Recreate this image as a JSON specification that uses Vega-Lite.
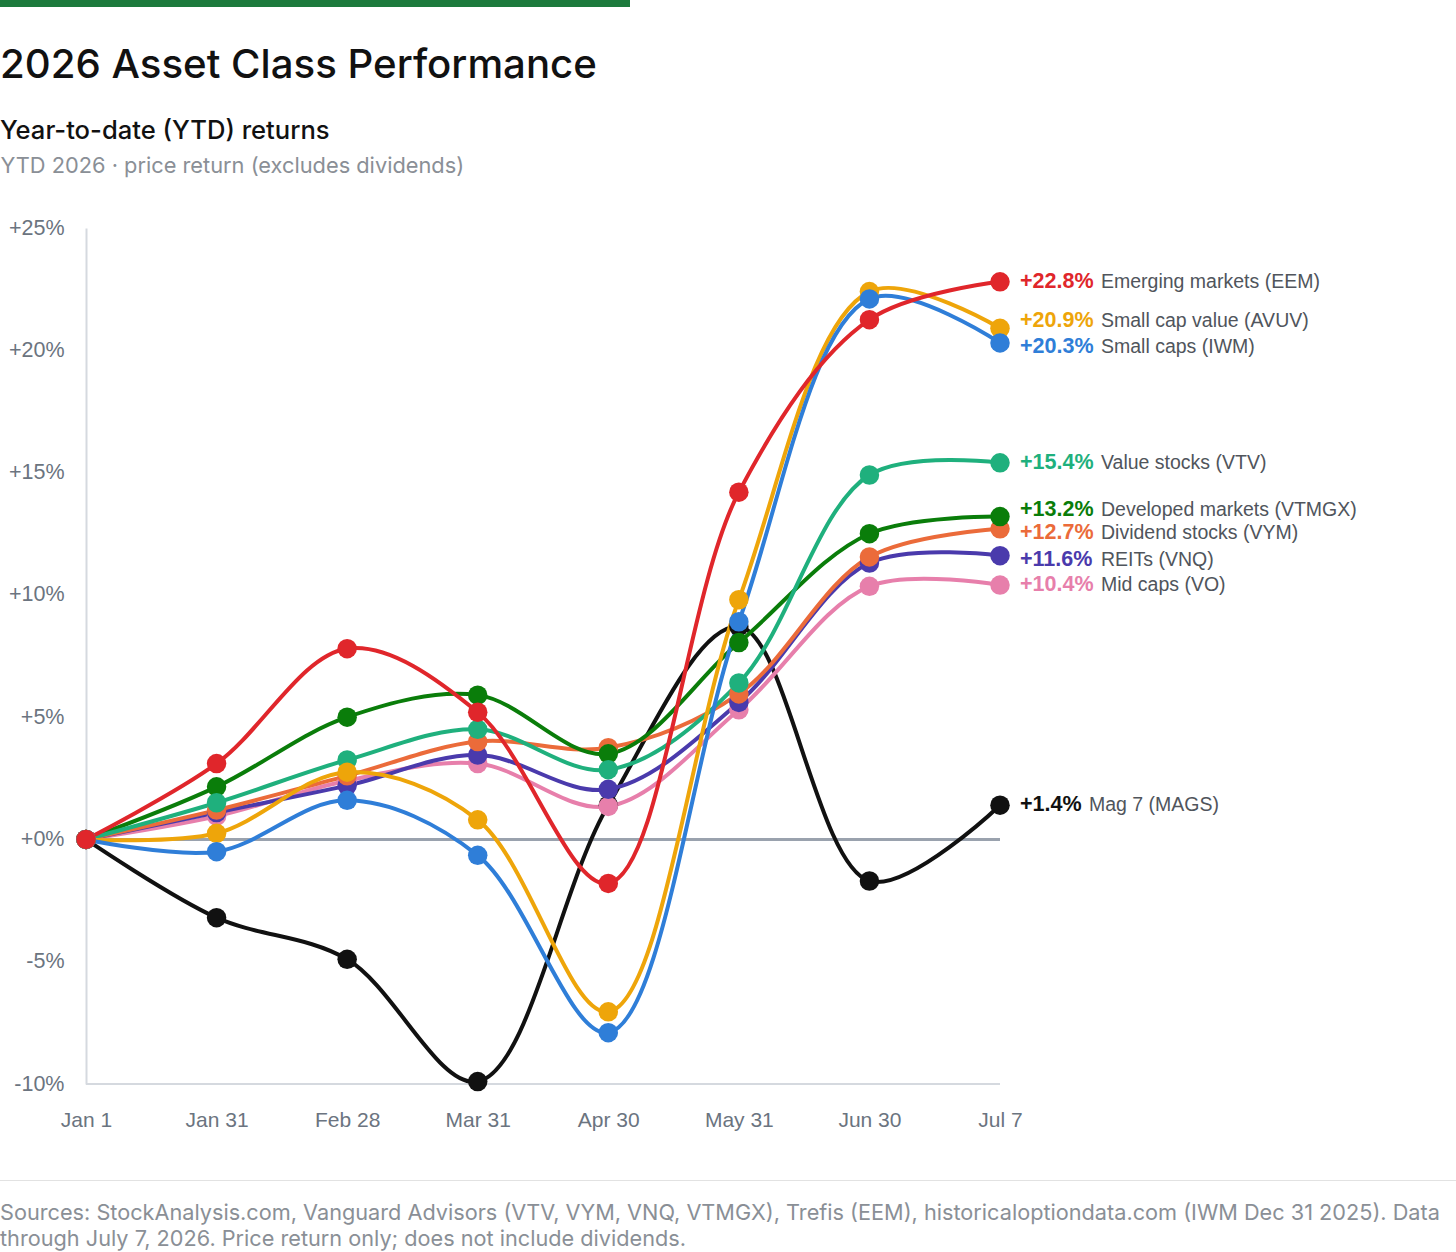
{
  "$schema": "https://vega.github.io/schema/vega-lite/v6.json",
  "description": "2026 asset class performance, YTD price returns",
  "padding": 0,
  "background": "white",
  "columns": 1,
  "spacing": 39,
  "config": {
    "view": {"stroke": null},
    "font": "Liberation Sans"
  },
  "concat": [
    {
      "data": {"values": [{"k": 1}]},
      "width": 630,
      "height": 7,
      "view": {"fill": "#1d7a3c", "stroke": null},
      "mark": {"type": "point", "opacity": 0, "size": 1}
    },
    {
      "title": {
        "text": "2026 Asset Class Performance",
        "subtitle": "Year-to-date (YTD) returns",
        "anchor": "start",
        "frame": "bounds",
        "font": "Inter",
        "fontSize": 40.2,
        "fontWeight": 500,
        "color": "#111111",
        "subtitleFont": "Inter",
        "subtitleFontSize": 25.6,
        "subtitleFontWeight": 500,
        "subtitleColor": "#111111",
        "subtitlePadding": 33,
        "offset": 10
      },
      "width": 1086,
      "height": 856,
      "data": {
        "values": [
          {"series": "Mag 7 (MAGS)", "date": "Jan 1", "value": 0},
          {"series": "Mag 7 (MAGS)", "date": "Jan 31", "value": -3.2},
          {"series": "Mag 7 (MAGS)", "date": "Feb 28", "value": -4.9},
          {"series": "Mag 7 (MAGS)", "date": "Mar 31", "value": -9.9},
          {"series": "Mag 7 (MAGS)", "date": "Apr 30", "value": 1.4},
          {"series": "Mag 7 (MAGS)", "date": "May 31", "value": 8.7},
          {"series": "Mag 7 (MAGS)", "date": "Jun 30", "value": -1.7},
          {"series": "Mag 7 (MAGS)", "date": "Jul 7", "value": 1.4},
          {"series": "Mid caps (VO)", "date": "Jan 1", "value": 0},
          {"series": "Mid caps (VO)", "date": "Jan 31", "value": 0.95},
          {"series": "Mid caps (VO)", "date": "Feb 28", "value": 2.4},
          {"series": "Mid caps (VO)", "date": "Mar 31", "value": 3.1},
          {"series": "Mid caps (VO)", "date": "Apr 30", "value": 1.35},
          {"series": "Mid caps (VO)", "date": "May 31", "value": 5.3},
          {"series": "Mid caps (VO)", "date": "Jun 30", "value": 10.35},
          {"series": "Mid caps (VO)", "date": "Jul 7", "value": 10.4},
          {"series": "REITs (VNQ)", "date": "Jan 1", "value": 0},
          {"series": "REITs (VNQ)", "date": "Jan 31", "value": 1.1},
          {"series": "REITs (VNQ)", "date": "Feb 28", "value": 2.2},
          {"series": "REITs (VNQ)", "date": "Mar 31", "value": 3.45},
          {"series": "REITs (VNQ)", "date": "Apr 30", "value": 2.05},
          {"series": "REITs (VNQ)", "date": "May 31", "value": 5.6},
          {"series": "REITs (VNQ)", "date": "Jun 30", "value": 11.3},
          {"series": "REITs (VNQ)", "date": "Jul 7", "value": 11.6},
          {"series": "Dividend stocks (VYM)", "date": "Jan 1", "value": 0},
          {"series": "Dividend stocks (VYM)", "date": "Jan 31", "value": 1.2},
          {"series": "Dividend stocks (VYM)", "date": "Feb 28", "value": 2.6},
          {"series": "Dividend stocks (VYM)", "date": "Mar 31", "value": 4.0},
          {"series": "Dividend stocks (VYM)", "date": "Apr 30", "value": 3.75},
          {"series": "Dividend stocks (VYM)", "date": "May 31", "value": 5.95},
          {"series": "Dividend stocks (VYM)", "date": "Jun 30", "value": 11.55},
          {"series": "Dividend stocks (VYM)", "date": "Jul 7", "value": 12.7},
          {"series": "Developed markets (VTMGX)", "date": "Jan 1", "value": 0},
          {"series": "Developed markets (VTMGX)", "date": "Jan 31", "value": 2.15},
          {"series": "Developed markets (VTMGX)", "date": "Feb 28", "value": 5.0},
          {"series": "Developed markets (VTMGX)", "date": "Mar 31", "value": 5.9},
          {"series": "Developed markets (VTMGX)", "date": "Apr 30", "value": 3.5},
          {"series": "Developed markets (VTMGX)", "date": "May 31", "value": 8.05},
          {"series": "Developed markets (VTMGX)", "date": "Jun 30", "value": 12.5},
          {"series": "Developed markets (VTMGX)", "date": "Jul 7", "value": 13.2},
          {"series": "Value stocks (VTV)", "date": "Jan 1", "value": 0},
          {"series": "Value stocks (VTV)", "date": "Jan 31", "value": 1.5},
          {"series": "Value stocks (VTV)", "date": "Feb 28", "value": 3.25},
          {"series": "Value stocks (VTV)", "date": "Mar 31", "value": 4.5},
          {"series": "Value stocks (VTV)", "date": "Apr 30", "value": 2.85},
          {"series": "Value stocks (VTV)", "date": "May 31", "value": 6.4},
          {"series": "Value stocks (VTV)", "date": "Jun 30", "value": 14.9},
          {"series": "Value stocks (VTV)", "date": "Jul 7", "value": 15.4},
          {"series": "Small cap value (AVUV)", "date": "Jan 1", "value": 0},
          {"series": "Small cap value (AVUV)", "date": "Jan 31", "value": 0.25},
          {"series": "Small cap value (AVUV)", "date": "Feb 28", "value": 2.75},
          {"series": "Small cap value (AVUV)", "date": "Mar 31", "value": 0.8},
          {"series": "Small cap value (AVUV)", "date": "Apr 30", "value": -7.05},
          {"series": "Small cap value (AVUV)", "date": "May 31", "value": 9.8},
          {"series": "Small cap value (AVUV)", "date": "Jun 30", "value": 22.4},
          {"series": "Small cap value (AVUV)", "date": "Jul 7", "value": 20.9},
          {"series": "Small caps (IWM)", "date": "Jan 1", "value": 0},
          {"series": "Small caps (IWM)", "date": "Jan 31", "value": -0.5},
          {"series": "Small caps (IWM)", "date": "Feb 28", "value": 1.6},
          {"series": "Small caps (IWM)", "date": "Mar 31", "value": -0.65},
          {"series": "Small caps (IWM)", "date": "Apr 30", "value": -7.9},
          {"series": "Small caps (IWM)", "date": "May 31", "value": 8.9},
          {"series": "Small caps (IWM)", "date": "Jun 30", "value": 22.1},
          {"series": "Small caps (IWM)", "date": "Jul 7", "value": 20.3},
          {"series": "Emerging markets (EEM)", "date": "Jan 1", "value": 0},
          {"series": "Emerging markets (EEM)", "date": "Jan 31", "value": 3.1},
          {"series": "Emerging markets (EEM)", "date": "Feb 28", "value": 7.8},
          {"series": "Emerging markets (EEM)", "date": "Mar 31", "value": 5.2},
          {"series": "Emerging markets (EEM)", "date": "Apr 30", "value": -1.8},
          {"series": "Emerging markets (EEM)", "date": "May 31", "value": 14.2},
          {"series": "Emerging markets (EEM)", "date": "Jun 30", "value": 21.25},
          {"series": "Emerging markets (EEM)", "date": "Jul 7", "value": 22.8}
        ]
      },
      "transform": [
        {"calculate": "(datum.value >= 0 ? '+' : '') + format(datum.value, '.1f') + '%'", "as": "label"}
      ],
      "layer": [
        {
          "mark": {"type": "rule", "color": "#d5d9df", "strokeWidth": 2},
          "encoding": {
            "x": {"datum": "Jan 1", "type": "ordinal"},
            "x2": {"datum": "Jul 7"},
            "y": {"datum": -10, "type": "quantitative"}
          }
        },
        {
          "mark": {"type": "rule", "color": "#9aa2ad", "strokeWidth": 2},
          "encoding": {
            "x": {"datum": "Jan 1", "type": "ordinal"},
            "x2": {"datum": "Jul 7"},
            "y": {"datum": 0, "type": "quantitative"}
          }
        },
        {
          "mark": {"type": "line", "interpolate": "catmull-rom", "strokeWidth": 4},
          "encoding": {
            "x": {
              "field": "date",
              "type": "ordinal",
              "sort": ["Jan 1", "Jan 31", "Feb 28", "Mar 31", "Apr 30", "May 31", "Jun 30", "Jul 7"],
              "scale": {"type": "point", "range": [86, 1000], "padding": 0},
              "axis": {
                "title": " ",
                "titleFontSize": 11,
                "titlePadding": 0,
                "labelAngle": 0,
                "labelAlign": "center",
                "labelFont": "Liberation Sans",
                "labelFontSize": 21,
                "labelColor": "#6b7480",
                "labelPadding": 36,
                "ticks": false,
                "grid": false,
                "domain": false
              }
            },
            "y": {
              "field": "value",
              "type": "quantitative",
              "scale": {"domain": [-10, 25], "nice": false, "zero": false},
              "axis": {
                "offset": -86,
                "title": "YTD 2026 · price return (excludes dividends)",
                "titleAngle": 0,
                "titleX": -86,
                "titleY": -63,
                "titleAlign": "left",
                "titleBaseline": "middle",
                "titleFont": "Inter",
                "titleFontSize": 21.8,
                "titleFontWeight": "normal",
                "titleColor": "#8a8f96",
                "values": [-10, -5, 0, 5, 10, 15, 20, 25],
                "labelExpr": "(datum.value >= 0 ? '+' : '') + datum.value + '%'",
                "labelFont": "Liberation Sans",
                "labelFontSize": 21.5,
                "labelColor": "#6b7480",
                "labelPadding": 22,
                "ticks": false,
                "grid": false,
                "domainColor": "#d5d9df",
                "domainWidth": 2
              }
            },
            "color": {
              "field": "series",
              "type": "nominal",
              "legend": null,
              "scale": {
                "domain": ["Mag 7 (MAGS)", "Mid caps (VO)", "REITs (VNQ)", "Dividend stocks (VYM)", "Developed markets (VTMGX)", "Value stocks (VTV)", "Small cap value (AVUV)", "Small caps (IWM)", "Emerging markets (EEM)"],
                "range": ["#111111", "#e77fab", "#4a3aac", "#eb6b3a", "#0a7d0a", "#1fb07d", "#eea50a", "#2f7ed8", "#e0262b"]
              }
            }
          }
        },
        {
          "mark": {"type": "point", "filled": true, "opacity": 1, "size": 380},
          "encoding": {
            "x": {"field": "date", "type": "ordinal", "sort": ["Jan 1", "Jan 31", "Feb 28", "Mar 31", "Apr 30", "May 31", "Jun 30", "Jul 7"]},
            "y": {"field": "value", "type": "quantitative"},
            "color": {"field": "series", "type": "nominal", "legend": null}
          }
        },
        {
          "transform": [
            {"filter": "datum.date === 'Jul 7' && indexof(['Small cap value (AVUV)', 'Developed markets (VTMGX)'], datum.series) >= 0"}
          ],
          "mark": {"type": "text", "align": "left", "baseline": "middle", "dx": 20, "dy": -7, "font": "Liberation Sans", "fontSize": 21.5, "fontWeight": "bold"},
          "encoding": {
            "x": {"field": "date", "type": "ordinal", "sort": ["Jan 1", "Jan 31", "Feb 28", "Mar 31", "Apr 30", "May 31", "Jun 30", "Jul 7"]},
            "y": {"field": "value", "type": "quantitative"},
            "text": {"field": "label"},
            "color": {"field": "series", "type": "nominal", "legend": null}
          }
        },
        {
          "transform": [
            {"filter": "datum.date === 'Jul 7' && indexof(['Small caps (IWM)', 'Dividend stocks (VYM)', 'REITs (VNQ)'], datum.series) >= 0"}
          ],
          "mark": {"type": "text", "align": "left", "baseline": "middle", "dx": 20, "dy": 4, "font": "Liberation Sans", "fontSize": 21.5, "fontWeight": "bold"},
          "encoding": {
            "x": {"field": "date", "type": "ordinal", "sort": ["Jan 1", "Jan 31", "Feb 28", "Mar 31", "Apr 30", "May 31", "Jun 30", "Jul 7"]},
            "y": {"field": "value", "type": "quantitative"},
            "text": {"field": "label"},
            "color": {"field": "series", "type": "nominal", "legend": null}
          }
        },
        {
          "transform": [
            {"filter": "datum.date === 'Jul 7' && indexof(['Emerging markets (EEM)', 'Value stocks (VTV)', 'Mid caps (VO)', 'Mag 7 (MAGS)'], datum.series) >= 0"}
          ],
          "mark": {"type": "text", "align": "left", "baseline": "middle", "dx": 20, "dy": 0, "font": "Liberation Sans", "fontSize": 21.5, "fontWeight": "bold"},
          "encoding": {
            "x": {"field": "date", "type": "ordinal", "sort": ["Jan 1", "Jan 31", "Feb 28", "Mar 31", "Apr 30", "May 31", "Jun 30", "Jul 7"]},
            "y": {"field": "value", "type": "quantitative"},
            "text": {"field": "label"},
            "color": {"field": "series", "type": "nominal", "legend": null}
          }
        },
        {
          "transform": [
            {"filter": "datum.date === 'Jul 7' && indexof(['Small cap value (AVUV)', 'Developed markets (VTMGX)'], datum.series) >= 0"}
          ],
          "mark": {"type": "text", "align": "left", "baseline": "middle", "dx": 101, "dy": -7, "font": "Liberation Sans", "fontSize": 19.5, "color": "#50555c"},
          "encoding": {
            "x": {"field": "date", "type": "ordinal", "sort": ["Jan 1", "Jan 31", "Feb 28", "Mar 31", "Apr 30", "May 31", "Jun 30", "Jul 7"]},
            "y": {"field": "value", "type": "quantitative"},
            "text": {"field": "series"}
          }
        },
        {
          "transform": [
            {"filter": "datum.date === 'Jul 7' && indexof(['Small caps (IWM)', 'Dividend stocks (VYM)', 'REITs (VNQ)'], datum.series) >= 0"}
          ],
          "mark": {"type": "text", "align": "left", "baseline": "middle", "dx": 101, "dy": 4, "font": "Liberation Sans", "fontSize": 19.5, "color": "#50555c"},
          "encoding": {
            "x": {"field": "date", "type": "ordinal", "sort": ["Jan 1", "Jan 31", "Feb 28", "Mar 31", "Apr 30", "May 31", "Jun 30", "Jul 7"]},
            "y": {"field": "value", "type": "quantitative"},
            "text": {"field": "series"}
          }
        },
        {
          "transform": [
            {"filter": "datum.date === 'Jul 7' && indexof(['Emerging markets (EEM)', 'Value stocks (VTV)', 'Mid caps (VO)'], datum.series) >= 0"}
          ],
          "mark": {"type": "text", "align": "left", "baseline": "middle", "dx": 101, "dy": 0, "font": "Liberation Sans", "fontSize": 19.5, "color": "#50555c"},
          "encoding": {
            "x": {"field": "date", "type": "ordinal", "sort": ["Jan 1", "Jan 31", "Feb 28", "Mar 31", "Apr 30", "May 31", "Jun 30", "Jul 7"]},
            "y": {"field": "value", "type": "quantitative"},
            "text": {"field": "series"}
          }
        },
        {
          "transform": [
            {"filter": "datum.date === 'Jul 7' && datum.series === 'Mag 7 (MAGS)'"}
          ],
          "mark": {"type": "text", "align": "left", "baseline": "middle", "dx": 89, "dy": 0, "font": "Liberation Sans", "fontSize": 19.5, "color": "#50555c"},
          "encoding": {
            "x": {"field": "date", "type": "ordinal", "sort": ["Jan 1", "Jan 31", "Feb 28", "Mar 31", "Apr 30", "May 31", "Jun 30", "Jul 7"]},
            "y": {"field": "value", "type": "quantitative"},
            "text": {"field": "series"}
          }
        }
      ]
    },
    {
      "data": {"values": [{"k": 1}]},
      "width": 1456,
      "height": 1,
      "view": {"fill": "#e2e2e2", "stroke": null},
      "mark": {"type": "point", "opacity": 0, "size": 1},
      "title": {
        "text": ["Sources: StockAnalysis.com, Vanguard Advisors (VTV, VYM, VNQ, VTMGX), Trefis (EEM), historicaloptiondata.com (IWM Dec 31 2025). Data", "through July 7, 2026. Price return only; does not include dividends."],
        "orient": "bottom",
        "anchor": "start",
        "frame": "bounds",
        "font": "Inter",
        "fontSize": 21.7,
        "fontWeight": "normal",
        "color": "#8a8f96",
        "lineHeight": 26,
        "offset": 22
      }
    }
  ]
}
